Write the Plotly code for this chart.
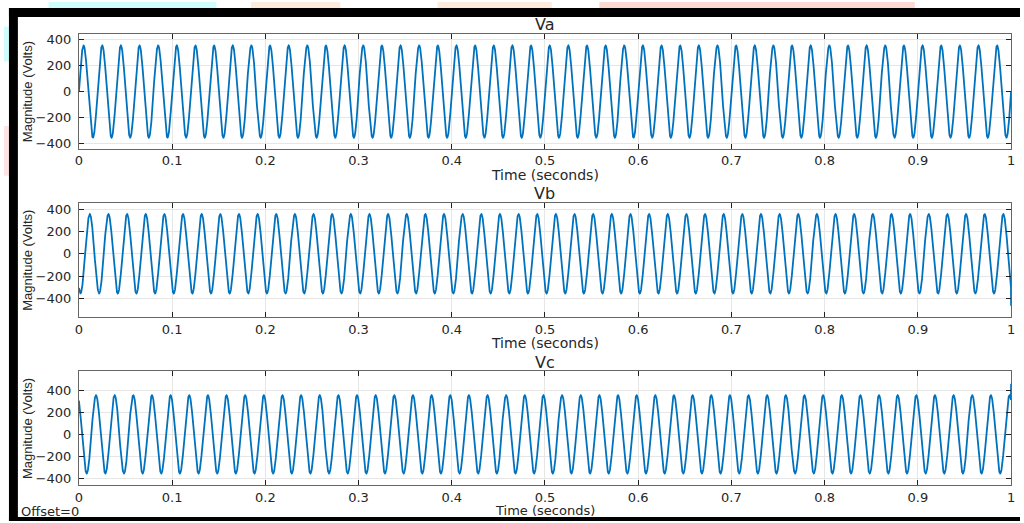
import numpy as np
import plotly.graph_objects as go

# ---- data ----
SERIES_NAMES = ["Va", "Vb", "Vc"]
FREQ_HZ = 50.0                      # 5 cycles per 0.1 s
AMPLITUDE_V = [355.0, 355.0, 355.0]  # peak value of each phase
PHASE_DEG = [0.0, -120.0, 120.0]     # Va starts at 0 rising, Vb at -307, Vc at +307
END_VALUE_V = [0.0, -465.0, 460.0]   # last sample spike seen at t = 1 s
T_END = 1.0
SAMPLE_STEP = 1e-4
X_TICKS = [0, 0.1, 0.2, 0.3, 0.4, 0.5, 0.6, 0.7, 0.8, 0.9, 1]
X_TICK_TEXT = ["0", "0.1", "0.2", "0.3", "0.4", "0.5", "0.6", "0.7", "0.8", "0.9", "1"]
Y_TICKS = [-400, -200, 0, 200, 400]
Y_RANGES = [[-440, 444], [-569, 457], [-460, 572]]

W, H = 1024, 523
t = np.arange(0, T_END + SAMPLE_STEP / 2, SAMPLE_STEP)

def py(px):
    return 1 - px / H

def pxx(px):
    return px / W

# panel pixel boxes (top, bottom)
panels = [(32.3, 147.7), (202.3, 317.7), (372.3, 486.7)]
xlabel_y = [174, 344, 512]
xlabel_size = [14, 14, 13]
x_left, x_right = 75.5, 1015.0

LINE = "#0072BD"
FONT = "DejaVu Sans, Liberation Sans, Arial, sans-serif"
TXT = "#262626"

fig = go.Figure()
layout = dict(
    width=W, height=H, margin=dict(l=0, r=0, t=0, b=0),
    paper_bgcolor="white", plot_bgcolor="white", showlegend=False,
    font=dict(family=FONT, color=TXT),
)
annotations = []

def label(text, xpx, ypx, size, family=FONT, angle=0, xanchor="center"):
    return dict(text=text, x=pxx(xpx), y=py(ypx), xref="paper", yref="paper",
                xanchor=xanchor, yanchor="middle", showarrow=False, textangle=angle,
                font=dict(size=size, family=family, color=TXT))

for i, name in enumerate(SERIES_NAMES):
    v = AMPLITUDE_V[i] * np.sin(2 * np.pi * FREQ_HZ * t + np.deg2rad(PHASE_DEG[i]))
    v[-1] = END_VALUE_V[i]
    sfx = "" if i == 0 else str(i + 1)
    fig.add_trace(go.Scatter(x=t, y=v, mode="lines", line=dict(color=LINE, width=1.8),
                             xaxis="x" + sfx, yaxis="y" + sfx, hoverinfo="skip"))
    top, bot = panels[i]
    layout["xaxis" + sfx] = dict(
        domain=[pxx(x_left), pxx(x_right)], anchor="y" + sfx, range=[0, 1],
        tickmode="array", tickvals=X_TICKS, ticktext=X_TICK_TEXT,
        ticks="inside", ticklen=5, tickcolor="#222", mirror="allticks",
        showline=True, linecolor="#666", linewidth=1,
        showgrid=True, gridcolor="#e6e6e6", zeroline=False,
        tickfont=dict(size=13, family=FONT, color=TXT), ticklabelstandoff=0,
    )
    layout["yaxis" + sfx] = dict(
        domain=[py(bot), py(top)], anchor="x" + sfx, range=Y_RANGES[i],
        tickmode="array", tickvals=Y_TICKS,
        ticks="inside", ticklen=5, tickcolor="#222", mirror="allticks",
        showline=True, linecolor="#666", linewidth=1,
        showgrid=True, gridcolor="#e6e6e6", zeroline=False,
        tickfont=dict(size=13, family=FONT, color=TXT), ticklabelstandoff=4,
    )
    xc = (x_left + x_right) / 2
    annotations.append(label(name, xc, top - 9.5, 16))
    annotations.append(label("Time (seconds)", xc, xlabel_y[i], xlabel_size[i]))
    annotations.append(label("Magnitude (Volts)", 23, (top + bot) / 2, 13,
                             family="Liberation Sans, Arial, sans-serif", angle=-90))

annotations.append(label("Offset=0", 15, 513, 13, xanchor="left"))
layout["annotations"] = annotations

def rect(x0, y0, x1, y1, color):
    return dict(type="rect", xref="paper", yref="paper", x0=pxx(x0), x1=pxx(x1),
                y0=py(y1), y1=py(y0), fillcolor=color, line=dict(width=0), layer="above")

shapes = [
    # page background strips outside the figure window
    rect(0, 0, 1024, 6, "white"),
    rect(45, 0, 214, 6, "#cffcfc"),
    rect(249, 0, 339, 6, "#fdebdb"),
    rect(437, 0, 552, 6, "#fdebdb"),
    rect(600, 0, 918, 6, "#fdd9d4"),
    rect(0, 6, 5, 523, "white"),
    rect(0, 25, 5, 60, "#cffcfc"),
    rect(0, 125, 5, 175, "#fde3e3"),
    # black window frame
    rect(5, 6, 1024, 15, "black"),
    rect(5, 6, 14, 523, "black"),
    rect(5, 519, 1024, 523, "black"),
]
layout["shapes"] = shapes
fig.update_layout(**layout)
fig.write_html("out.html")
